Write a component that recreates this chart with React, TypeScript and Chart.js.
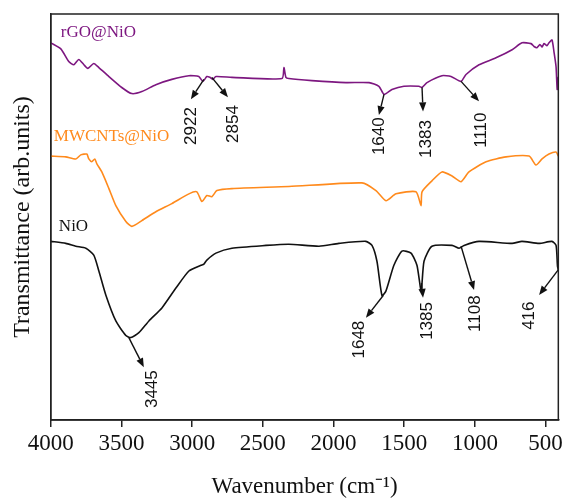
import { useEffect, useRef } from "react";
import { Chart, registerables } from "chart.js";

Chart.register(...registerables);

const xTicks = [4000, 3500, 3000, 2500, 2000, 1500, 1000, 500];
const xMin = 410;
const xMax = 4000;

const seriesNames = ["rGO@NiO", "MWCNTs@NiO", "NiO"];
const seriesColors = ["#7d1780", "#ff8a1c", "#111111"];

const rgoWave = [4000, 3929, 3873, 3837, 3802, 3766, 3738, 3696, 3660, 3589, 3498, 3427, 3356, 3257, 3144, 3023, 2953, 2924, 2896, 2875, 2854, 2832, 2719, 2365, 2351, 2337, 2316, 2153, 1912, 1749, 1679, 1643, 1587, 1502, 1396, 1374, 1339, 1233, 1169, 1098, 1063, 971, 851, 737, 667, 603, 582, 561, 540, 525, 511, 490, 476, 455, 440, 426, 418, 410];
const rgoT = [92.9, 91.4, 88.3, 87.5, 88.8, 87.5, 86.6, 87.8, 86.8, 84.6, 81.9, 80.4, 80.9, 82.6, 83.9, 84.8, 84.6, 83.4, 84.6, 84.4, 83.9, 84.6, 84.4, 84.1, 86.8, 84.4, 84.1, 83.6, 83.1, 83.1, 82.2, 80.2, 81.4, 82.2, 82.2, 81.9, 83.1, 84.8, 84.6, 83.4, 85.1, 87.5, 89.2, 91.2, 92.9, 92.7, 92.0, 91.7, 92.5, 91.9, 92.7, 92.2, 92.9, 93.6, 90.5, 87.0, 81.4, 84.5];

const mwWave = [4000, 3894, 3823, 3788, 3745, 3731, 3710, 3689, 3674, 3639, 3589, 3540, 3469, 3427, 3356, 3257, 3144, 3023, 2967, 2931, 2896, 2861, 2825, 2719, 2316, 1799, 1700, 1629, 1558, 1417, 1381, 1374, 1304, 1233, 1162, 1098, 1042, 921, 780, 617, 568, 525, 476, 426, 410];
const mwT = [65.0, 64.8, 64.3, 65.3, 65.5, 64.3, 63.6, 64.3, 63.1, 61.1, 57.0, 52.8, 48.9, 47.7, 49.1, 51.3, 53.3, 55.7, 56.2, 53.8, 55.3, 55.0, 56.5, 57.0, 57.5, 58.4, 56.5, 54.0, 55.7, 56.2, 52.8, 56.2, 58.9, 61.1, 60.1, 58.7, 61.1, 63.6, 64.8, 65.0, 62.8, 64.3, 65.5, 66.0, 65.0];

const nioWave = [4000, 3894, 3823, 3752, 3696, 3660, 3611, 3540, 3469, 3434, 3377, 3306, 3214, 3115, 3023, 2938, 2917, 2896, 2832, 2719, 2478, 2316, 2103, 1962, 1771, 1728, 1693, 1657, 1629, 1573, 1516, 1452, 1410, 1380, 1360, 1304, 1162, 1112, 1077, 971, 737, 667, 546, 455, 426, 416, 410];
const nioT = [44.0, 43.5, 42.8, 42.3, 40.6, 36.7, 30.8, 24.4, 20.8, 20.3, 21.5, 24.4, 27.6, 32.5, 36.7, 38.1, 38.4, 39.4, 41.1, 42.3, 43.0, 43.3, 42.8, 43.5, 44.0, 43.0, 39.1, 30.6, 31.8, 38.1, 41.6, 41.1, 38.1, 31.8, 39.1, 42.8, 43.0, 42.3, 43.0, 44.0, 43.5, 44.0, 43.5, 44.0, 43.0, 37.9, 36.9];

// peak annotations: label, tail (wave, T), head (wave, T), label centre (wave, T), colour index
const peakLabels = ["2922", "2854", "1640", "1383", "1110", "3445", "1648", "1385", "1108", "416"];
const peakTail = [[2917, 83.9], [2861, 84.4], [1643, 80.2], [1374, 81.9], [1098, 83.4], [3448, 20.3], [1650, 30.6], [1378, 33.7], [1098, 42.8], [412, 36.9]];
const peakHead = [[3009, 79.0], [2747, 79.5], [1679, 75.1], [1367, 76.0], [971, 78.5], [3342, 13.0], [1771, 25.2], [1367, 30.1], [1006, 32.0], [546, 30.8]];
const peakText = [[3009, 72.4], [2712, 72.9], [1679, 69.9], [1346, 69.2], [957, 71.4], [3285, 7.6], [1820, 19.8], [1339, 24.4], [999, 26.2], [617, 25.7]];

const nameAnchor = [[3929, 95.4], [3979, 69.7], [3943, 47.7]];

const serif = '"Liberation Serif", "Times New Roman", Times, serif';
const sans = '"Liberation Sans", Arial, Helvetica, sans-serif';

const pairs = (xs: number[], ys: number[]) => xs.map((x, i) => ({ x, y: ys[i] }));

const decorPlugin = {
  id: "decor",
  afterDatasetsDraw(chart: any) {
    const { ctx, chartArea, scales } = chart;
    const sx = scales.x;
    const sy = scales.y;
    ctx.save();
    // frame
    ctx.strokeStyle = "#222";
    ctx.lineWidth = 1.5;
    ctx.strokeRect(chartArea.left, chartArea.top, chartArea.right - chartArea.left, chartArea.bottom - chartArea.top);

    // series names
    ctx.font = `17px ${serif}`;
    ctx.textAlign = "left";
    ctx.textBaseline = "middle";
    nameAnchor.forEach((p, i) => {
      ctx.fillStyle = seriesColors[i];
      ctx.fillText(seriesNames[i], sx.getPixelForValue(p[0]), sy.getPixelForValue(p[1]));
    });

    // arrows
    ctx.strokeStyle = "#111";
    ctx.fillStyle = "#111";
    ctx.lineWidth = 1.4;
    peakLabels.forEach((lab, i) => {
      const x1 = sx.getPixelForValue(peakTail[i][0]);
      const y1 = sy.getPixelForValue(peakTail[i][1]);
      const x2 = sx.getPixelForValue(peakHead[i][0]);
      const y2 = sy.getPixelForValue(peakHead[i][1]);
      const ang = Math.atan2(y2 - y1, x2 - x1);
      const hl = 9;
      const hw = 3.6;
      const bx = x2 - hl * Math.cos(ang);
      const by = y2 - hl * Math.sin(ang);
      ctx.beginPath();
      ctx.moveTo(x1, y1);
      ctx.lineTo(bx, by);
      ctx.stroke();
      ctx.beginPath();
      ctx.moveTo(x2, y2);
      ctx.lineTo(bx + hw * Math.sin(ang), by - hw * Math.cos(ang));
      ctx.lineTo(bx - hw * Math.sin(ang), by + hw * Math.cos(ang));
      ctx.closePath();
      ctx.fill();

      const tx = sx.getPixelForValue(peakText[i][0]);
      const ty = sy.getPixelForValue(peakText[i][1]);
      ctx.save();
      ctx.translate(tx, ty);
      ctx.rotate(-Math.PI / 2);
      ctx.font = `17px ${sans}`;
      ctx.textAlign = "center";
      ctx.textBaseline = "middle";
      ctx.fillText(lab, 0, 0);
      ctx.restore();
    });
    ctx.restore();
  },
};

export default function App() {
  const ref = useRef<HTMLCanvasElement | null>(null);

  useEffect(() => {
    document.body.style.margin = "0";
    const canvas = ref.current;
    if (!canvas) return;
    const chart = new Chart(canvas, {
      type: "line",
      data: {
        datasets: [
          { label: seriesNames[0], data: pairs(rgoWave, rgoT), borderColor: seriesColors[0], borderWidth: 1.6, pointRadius: 0, tension: 0.2 },
          { label: seriesNames[1], data: pairs(mwWave, mwT), borderColor: seriesColors[1], borderWidth: 1.6, pointRadius: 0, tension: 0.2 },
          { label: seriesNames[2], data: pairs(nioWave, nioT), borderColor: seriesColors[2], borderWidth: 1.6, pointRadius: 0, tension: 0.2 },
        ],
      },
      options: {
        responsive: false,
        animation: false,
        devicePixelRatio: 1,
        layout: { padding: { left: 4, right: 6, top: 14, bottom: 0 } },
        plugins: { legend: { display: false }, tooltip: { enabled: false } },
        scales: {
          x: {
            type: "linear",
            reverse: true,
            min: xMin,
            max: xMax,
            afterBuildTicks: (axis: any) => {
              axis.ticks = xTicks.map((v) => ({ value: v }));
            },
            grid: { display: true, drawOnChartArea: false, drawTicks: true, tickLength: 7, color: "#222", lineWidth: 1.5 },
            border: { display: true, color: "#222", width: 1.5 },
            ticks: { color: "#111", padding: 3, maxRotation: 0, font: { family: serif, size: 23 }, callback: (v: any) => String(v) },
            title: { display: true, text: "Wavenumber (cm\u207B\u00B9)", color: "#111", font: { family: serif, size: 23 }, padding: { top: 12.8, bottom: 0 } },
          },
          y: {
            type: "linear",
            min: 0,
            max: 100,
            grid: { display: false, drawTicks: false },
            border: { display: true, color: "#222", width: 1.5 },
            ticks: { display: false },
            title: { display: true, text: "Transmittance (arb.units)", color: "#111", font: { family: serif, size: 24 }, padding: { top: 4, bottom: 14 } },
          },
        },
      },
      plugins: [decorPlugin],
    });
    return () => chart.destroy();
  }, []);

  return (
    <div style={{ width: 566, height: 501 }}>
      <canvas ref={ref} width={566} height={501} style={{ display: "block" }} />
    </div>
  );
}
